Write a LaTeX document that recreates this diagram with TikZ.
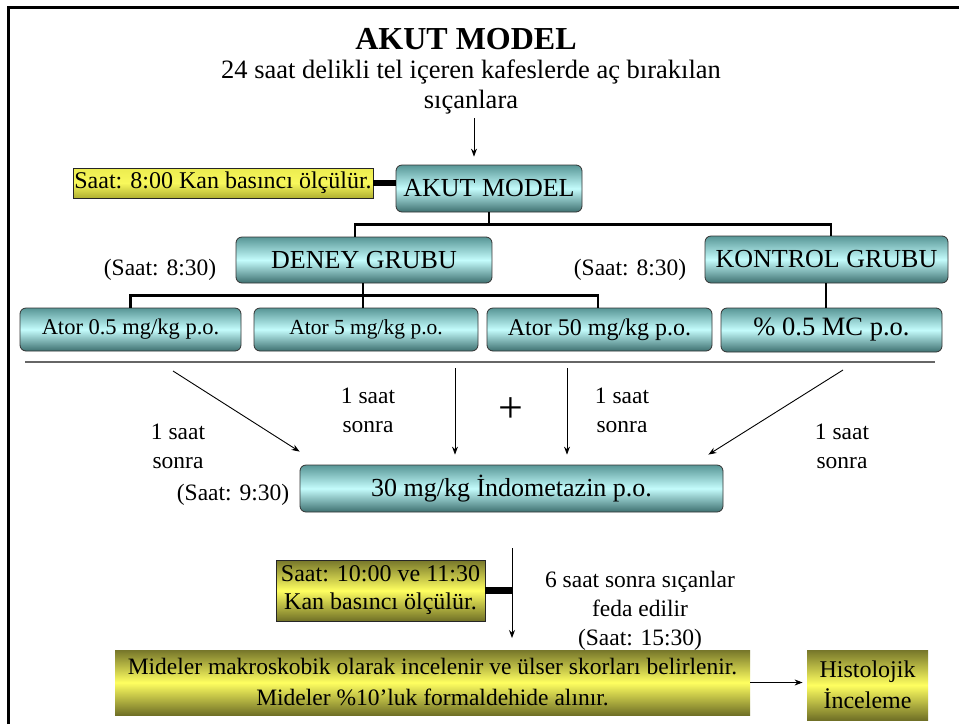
\documentclass[tikz,border=0pt]{standalone}
\usepackage{fontspec}
\setmainfont{Liberation Serif}
\usetikzlibrary{arrows.meta}
\definecolor{tealtop}{RGB}{88,150,150}
\definecolor{tealmid}{RGB}{196,252,252}
\definecolor{tealbot}{RGB}{62,112,112}
\definecolor{olivetop}{RGB}{118,118,42}
\definecolor{yellowmid}{RGB}{255,255,96}
\definecolor{olivebot}{RGB}{112,112,38}
\definecolor{lemontop}{RGB}{236,236,80}
\definecolor{lemonmid}{RGB}{248,248,92}
\definecolor{lemonbot}{RGB}{176,176,48}
\begin{document}
\begin{tikzpicture}[x=1pt,y=-1pt,
  tealbox/.style={draw=black!80,line width=0.8pt,rounded corners=6pt,
    top color=tealtop,bottom color=tealbot,middle color=tealmid,
    inner sep=0pt,font=\fontsize{26}{30}\selectfont},
  yelbox/.style={draw=black!85,line width=0.8pt,
    top color=olivetop,bottom color=olivebot,middle color=yellowmid,
    inner sep=0pt,align=center},
  wire/.style={line width=2.4pt},
  bar/.style={line width=6.5pt},
  arr/.style={line width=0.9pt,-{Stealth[length=8pt,width=6pt]}},
  lbl/.style={inner sep=0pt,align=center,font=\fontsize{23.5}{29}\selectfont}]
\useasboundingbox (0,0) rectangle (959,724);
\fill[white] (0,0) rectangle (959,724);
\draw[line width=3pt] (8.5,724) -- (8.5,7) -- (959,7);

% heading
\node[inner sep=0pt,font=\bfseries\fontsize{32}{36}\selectfont] (title) at (466,39) {AKUT MODEL};
\node[inner sep=0pt,align=center,font=\fontsize{26.5}{30}\selectfont] (intro) at (471,87)
  {24 saat delikli tel içeren kafeslerde aç bırakılan\\sıçanlara};
\coordinate (introarr) at (474,118);

% group tree
\node[tealbox,minimum width=186pt,minimum height=47pt] (akut) at (489,188.5) {AKUT MODEL};
\node[yelbox,minimum width=300pt,minimum height=30pt,font=\fontsize{24}{26}\selectfont,
  top color=lemontop,bottom color=lemonbot,middle color=lemonmid] (saat8) at (223,183)
  {Saat: 8:00 Kan basıncı ölçülür.};
\draw[bar] (saat8.east) -- (saat8.east -| akut.west);
\draw[arr] (introarr) -- ([yshift=8pt]introarr |- akut.north);

\node[tealbox,minimum width=256pt,minimum height=46pt] (deney) at (364,260) {DENEY GRUBU};
\node[tealbox,minimum width=243pt,minimum height=47pt] (kontrol) at (826.5,259.5) {KONTROL GRUBU};
\node[tealbox,minimum width=221pt,minimum height=43pt,font=\fontsize{22.5}{24}\selectfont] (a1) at (130.5,329.5) {Ator 0.5 mg/kg p.o.};
\node[tealbox,minimum width=224pt,minimum height=43pt,font=\fontsize{21.5}{24}\selectfont] (a2) at (366,329.5) {Ator 5 mg/kg p.o.};
\node[tealbox,minimum width=225pt,minimum height=43pt,font=\fontsize{24}{26}\selectfont] (a3) at (599.5,329.5) {Ator 50 mg/kg p.o.};
\node[tealbox,minimum width=221pt,minimum height=44pt,font=\fontsize{26.5}{30}\selectfont] (mc) at (831.5,330) {\% 0.5 MC p.o.};

\node[lbl] (t1) at (160,270) {(Saat: 8:30)};
\node[lbl] (t2) at (630,270) {(Saat: 8:30)};

\draw[wire] (akut.south) -- ++(0,12) coordinate (jtop) -| ([xshift=-9pt]deney.north);
\draw[wire] (jtop) -| ([xshift=4.5pt]kontrol.north);
\draw[wire] ([xshift=-1pt]deney.south) -- ++(0,12) coordinate (jmid) -| (a1.north);
\draw[wire] (jmid) -- (jmid |- a2.north);
\draw[wire] (jmid) -| ([xshift=-1.5pt]a3.north);
\draw[wire] ([xshift=-0.5pt]kontrol.south) -- ([xshift=-0.5pt]kontrol.south |- mc.north);

\draw[gray!80!black,line width=2pt] (25,362) -- (935,362);

% indometazin step
\node[tealbox,minimum width=423pt,minimum height=47pt] (indo) at (511.5,488.5) {30 mg/kg İndometazin p.o.};
\node[lbl] (t3) at (233,495) {(Saat: 9:30)};
\coordinate (s1) at (173,371);
\coordinate (s2) at (455,368);
\coordinate (s3) at (567,368);
\coordinate (s4) at (843,370);
\draw[arr] (s1) -- ([yshift=13pt]indo.north west);
\draw[arr] (s2) -- ([yshift=10pt]s2 |- indo.north);
\draw[arr] (s3) -- ([yshift=10pt]s3 |- indo.north);
\draw[arr] (s4) -- ([xshift=-15pt,yshift=10pt]indo.north east);
\node[lbl] (l1) at (178,446) {1 saat\\sonra};
\node[lbl] (l2) at (368,410) {1 saat\\sonra};
\node[inner sep=0pt,font=\fontsize{44}{44}\selectfont] (plus) at (511,410) {+};
\node[lbl] (l3) at (622,410) {1 saat\\sonra};
\node[lbl] (l4) at (842,446) {1 saat\\sonra};

% sacrifice and evaluation
\coordinate (d1) at (512,548);
\coordinate (d2) at (512,638);
\draw[arr] (d1) -- (d2);
\node[yelbox,minimum width=209pt,minimum height=61pt,font=\fontsize{24}{28}\selectfont] (saat10) at (380.5,590.5)
  {Saat: 10:00 ve 11:30\\Kan basıncı ölçülür.};
\draw[bar] (saat10.east) -- (saat10.east -| d1);
\node[lbl] (l5) at (640,611) {6 saat sonra sıçanlar\\feda edilir\\(Saat: 15:30)};
\node[yelbox,draw=none,minimum width=635pt,minimum height=65pt,font=\fontsize{23.5}{31}\selectfont] (mideler) at (432.5,682.5)
  {Mideler makroskobik olarak incelenir ve ülser skorları belirlenir.\\Mideler \%10’luk formaldehide alınır.};
\node[yelbox,draw=none,minimum width=121pt,minimum height=70pt,font=\fontsize{24}{31}\selectfont] (histo) at (867.5,685)
  {Histolojik\\İnceleme};
\draw[arr] (mideler.east) -- ([xshift=-4pt]mideler.east -| histo.west);
\end{tikzpicture}
\end{document}
